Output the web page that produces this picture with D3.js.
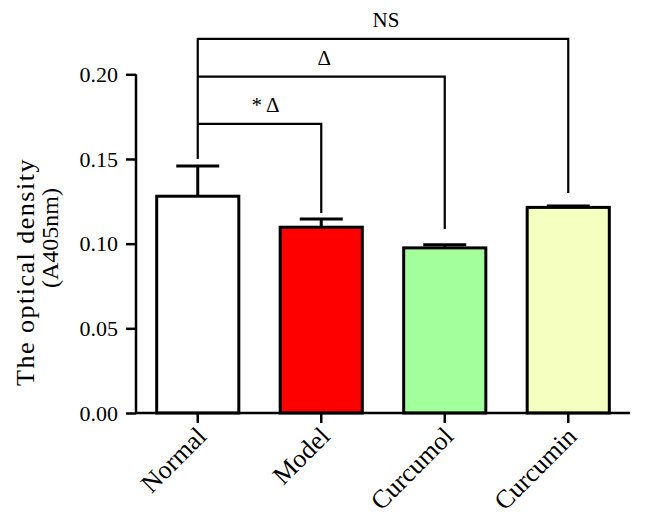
<!DOCTYPE html>
<html>
<head>
<meta charset="utf-8">
<script src="https://cdn.jsdelivr.net/npm/d3@7"></script>
<style>
  html, body { margin: 0; padding: 0; background: #fff; }
  svg { display: block; }
  text { font-family: "Liberation Serif", "DejaVu Serif", serif; fill: #000; }
</style>
</head>
<body>
<svg id="chart" width="645" height="516"></svg>
<script>
// ---- data ----
const categories = ["Normal", "Model", "Curcumol", "Curcumin"];
const means = [0.128, 0.1097, 0.0975, 0.1214];
const errors = [0.0179, 0.0049, 0.0018, 0.0008];
const barColors = ["#ffffff", "#ff0000", "#a2ff9c", "#f4ffc0"];
const yTicks = [0.00, 0.05, 0.10, 0.15, 0.20];
const comparisons = [
  { from: "Normal", to: "Model",    level: 0.1707, end: 0.1181, label: "* \u0394" },
  { from: "Normal", to: "Curcumol", level: 0.1986, end: 0.1087, label: "\u0394" },
  { from: "Normal", to: "Curcumin", level: 0.2209, end: 0.1299, label: "NS" }
];
const commonStart = 0.15;

// ---- layout ----
const svg = d3.select("#chart");
const x = d3.scaleBand().domain(categories).range([136, 630]).paddingInner(0.335).paddingOuter(0.1675);
const y = d3.scaleLinear().domain([0, 0.2]).range([413, 74.3]);
const cx = d => x(d) + x.bandwidth() / 2;

// bars
svg.append("g").selectAll("rect").data(categories).join("rect")
  .attr("x", d => x(d))
  .attr("y", (d, i) => y(means[i]))
  .attr("width", x.bandwidth())
  .attr("height", (d, i) => y(0) - y(means[i]))
  .attr("fill", (d, i) => barColors[i])
  .attr("stroke", "#000")
  .attr("stroke-width", 3);

// error bars
const eg = svg.append("g").attr("stroke", "#000").attr("stroke-width", 3);
categories.forEach((c, i) => {
  eg.append("line").attr("x1", cx(c)).attr("x2", cx(c))
    .attr("y1", y(means[i])).attr("y2", y(means[i] + errors[i]));
  eg.append("line").attr("x1", cx(c) - 21.5).attr("x2", cx(c) + 21.5)
    .attr("y1", y(means[i] + errors[i])).attr("y2", y(means[i] + errors[i]));
});

// axes
const yAxis = svg.append("g").attr("transform", "translate(136,0)")
  .call(d3.axisLeft(y).tickValues(yTicks).tickFormat(d3.format(".2f")).tickSize(10).tickPadding(8));
yAxis.select(".domain").attr("d", `M0,${y(0)}V${y(0.2)}`);
const xAxis = svg.append("g").attr("transform", `translate(0,${y(0)})`)
  .call(d3.axisBottom(x).tickSize(10).tickFormat(""));
xAxis.select(".domain").attr("d", "M136,0H630");
[yAxis, xAxis].forEach(g => {
  g.selectAll(".domain, .tick line").attr("stroke", "#000").attr("stroke-width", 2.5);
});
yAxis.selectAll(".tick text").attr("font-size", 22).attr("font-family", "Liberation Serif").attr("fill", "#000");

// x labels rotated
svg.append("g").selectAll("text").data(categories).join("text")
  .attr("transform", d => `translate(${cx(d) + 10},${y(0) + 25}) rotate(-45)`)
  .attr("text-anchor", "end")
  .attr("font-size", 26)
  .text(d => d);

// y title
svg.append("text")
  .attr("transform", "translate(34,272) rotate(-90)")
  .attr("text-anchor", "middle").attr("font-size", 26).attr("letter-spacing", 1.5)
  .text("The optical density");
svg.append("text")
  .attr("transform", "translate(58,238) rotate(-90)")
  .attr("text-anchor", "middle").attr("font-size", 24)
  .text("(A405nm)");

// significance brackets
const bg = svg.append("g").attr("stroke", "#000").attr("stroke-width", 2.2).attr("fill", "none");
const x0 = cx("Normal");
bg.append("line").attr("x1", x0).attr("x2", x0)
  .attr("y1", y(d3.max(comparisons, c => c.level)) - 1).attr("y2", y(commonStart));
comparisons.forEach(c => {
  const x1 = cx(c.to);
  bg.append("path").attr("d", `M${x0},${y(c.level)}H${x1}V${y(c.end)}`);
  svg.append("text")
    .attr("x", (x0 + x1) / 2 + (c.label.length > 2 ? 6 : 3))
    .attr("y", y(c.level) - 12)
    .attr("text-anchor", "middle")
    .attr("font-size", 21)
    .text(c.label);
});
</script>
</body>
</html>
